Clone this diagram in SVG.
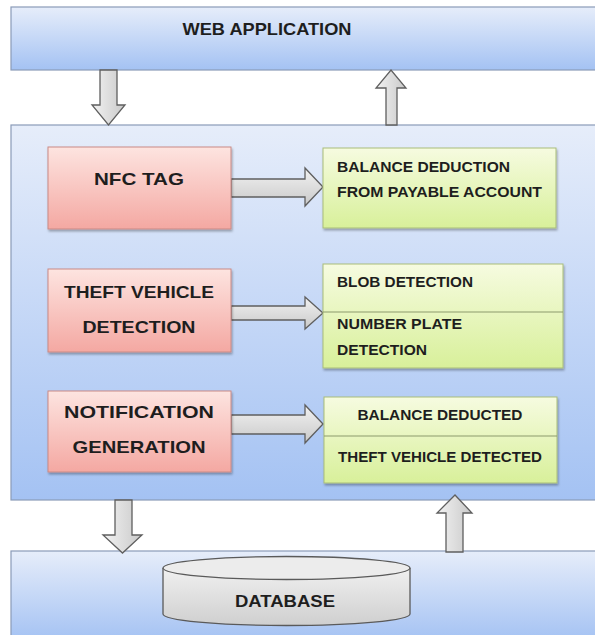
<svg xmlns="http://www.w3.org/2000/svg" width="595" height="635" viewBox="0 0 595 635">
  <defs>
    <linearGradient id="gBlue" x1="0" y1="0" x2="0" y2="1">
      <stop offset="0" stop-color="#e6edfa"/>
      <stop offset="1" stop-color="#a4c2f3"/>
    </linearGradient>
    <linearGradient id="gPink" x1="0" y1="0" x2="0" y2="1">
      <stop offset="0" stop-color="#fde4e0"/>
      <stop offset="1" stop-color="#f4a8a2"/>
    </linearGradient>
    <linearGradient id="gGreen" x1="0" y1="0" x2="0" y2="1">
      <stop offset="0" stop-color="#f6fbe0"/>
      <stop offset="1" stop-color="#d8f09a"/>
    </linearGradient>
    <linearGradient id="gArrowV" x1="0" y1="0" x2="1" y2="0">
      <stop offset="0" stop-color="#f2f2f2"/>
      <stop offset="1" stop-color="#c9c9c9"/>
    </linearGradient>
    <linearGradient id="gArrowH" x1="0" y1="0" x2="0" y2="1">
      <stop offset="0" stop-color="#f2f2f2"/>
      <stop offset="1" stop-color="#c9c9c9"/>
    </linearGradient>
    <linearGradient id="gCyl" x1="0" y1="0" x2="0" y2="1">
      <stop offset="0" stop-color="#f0f0f0"/>
      <stop offset="1" stop-color="#cfcfcf"/>
    </linearGradient>
    <filter id="shadow" x="-5%" y="-5%" width="115%" height="120%">
      <feDropShadow dx="1" dy="2" stdDeviation="1.2" flood-color="#000" flood-opacity="0.3"/>
    </filter>
  </defs>
  <style>
    .layer { fill: url(#gBlue); stroke: #8a9bb8; stroke-width: 1.2; }
    .red { fill: url(#gPink); stroke: #c98a86; stroke-width: 1; filter: url(#shadow); }
    .green { fill: url(#gGreen); stroke: #a9bd7a; stroke-width: 1; filter: url(#shadow); }
    .div { stroke: #8c9a6c; stroke-width: 1; }
    .av { fill: url(#gArrowV); stroke: #5f5f5f; stroke-width: 1.3; stroke-linejoin: miter; }
    .ah { fill: url(#gArrowH); stroke: #5f5f5f; stroke-width: 1.3; stroke-linejoin: miter; }
    text { font-family: "Liberation Sans", Arial, sans-serif; font-weight: bold; fill: #1e1e1e; }
    .big { font-size: 17px; }
    .small { font-size: 14px; }
    .mid { text-anchor: middle; }
  </style>

  <!-- outer layers -->
  <g id="web-application">
    <rect class="layer" x="11" y="7" width="600" height="63"/>
    <text class="big mid" x="267" y="35" textLength="169" lengthAdjust="spacingAndGlyphs">WEB APPLICATION</text>
  </g>
  <g id="system">
    <rect class="layer" x="11" y="125" width="600" height="375"/>
  </g>
  <g id="database-layer">
    <rect class="layer" x="11" y="551" width="600" height="90"/>
  </g>

  <!-- connectors -->
  <g id="connectors">
    <polygon class="av" points="100,70 117,70 117,105 125,105 108.5,125 92,105 100,105 100,70"/>
    <polygon class="av" points="386,125 397,125 397,88 406,88 391,70 376,88 386,88 386,125"/>
    <polygon class="ah" points="231,179 305,179 305,168 323,187 305,206 305,197 231,197"/>
    <polygon class="ah" points="231,306 305,306 305,297 323,313 305,329 305,320 231,320"/>
    <polygon class="ah" points="231,415 305,415 305,405 323,424 305,443 305,434 231,434"/>
    <polygon class="av" points="115,500 132,500 132,535 142,535 122.5,553 103,535 115,535 115,500"/>
    <polygon class="av" points="446,552 463,552 463,513 472,513 455,495 437,513 446,513 446,552"/>
  </g>

  <!-- left column -->
  <g id="nfc-tag">
    <rect class="red" x="48" y="147" width="183" height="82"/>
    <text class="big mid" x="139" y="185" textLength="90" lengthAdjust="spacingAndGlyphs">NFC TAG</text>
  </g>
  <g id="theft-vehicle-detection">
    <rect class="red" x="48" y="269" width="183" height="83"/>
    <text class="big mid" x="139" y="298" textLength="150" lengthAdjust="spacingAndGlyphs">THEFT VEHICLE</text>
    <text class="big mid" x="139" y="333" textLength="113" lengthAdjust="spacingAndGlyphs">DETECTION</text>
  </g>
  <g id="notification-generation">
    <rect class="red" x="48" y="391" width="183" height="81"/>
    <text class="big mid" x="139" y="418" textLength="150" lengthAdjust="spacingAndGlyphs">NOTIFICATION</text>
    <text class="big mid" x="139" y="453" textLength="133" lengthAdjust="spacingAndGlyphs">GENERATION</text>
  </g>

  <!-- right column -->
  <g id="balance-deduction">
    <rect class="green" x="323" y="148" width="233" height="80"/>
    <text class="small" x="337" y="172" textLength="173" lengthAdjust="spacingAndGlyphs">BALANCE DEDUCTION</text>
    <text class="small" x="337" y="197" textLength="205" lengthAdjust="spacingAndGlyphs">FROM PAYABLE ACCOUNT</text>
  </g>
  <g id="detection-methods">
    <rect class="green" x="323" y="264" width="240" height="104"/>
    <line class="div" x1="323" y1="312" x2="563" y2="312"/>
    <text class="small" x="337" y="287" textLength="136" lengthAdjust="spacingAndGlyphs">BLOB DETECTION</text>
    <text class="small" x="337" y="329" textLength="125" lengthAdjust="spacingAndGlyphs">NUMBER PLATE</text>
    <text class="small" x="337" y="355" textLength="90" lengthAdjust="spacingAndGlyphs">DETECTION</text>
  </g>
  <g id="notifications">
    <rect class="green" x="324" y="397" width="233" height="86"/>
    <line class="div" x1="324" y1="436" x2="557" y2="436"/>
    <text class="small mid" x="440" y="420" textLength="165" lengthAdjust="spacingAndGlyphs">BALANCE DEDUCTED</text>
    <text class="small mid" x="440" y="462" textLength="204" lengthAdjust="spacingAndGlyphs">THEFT VEHICLE DETECTED</text>
  </g>

  <!-- storage cylinder -->
  <g id="database">
    <path d="M163,568 L163,614 A123.5,11.5 0 0 0 410,614 L410,568" fill="url(#gCyl)" stroke="#5a5a5a" stroke-width="1.3"/>
    <ellipse cx="286.5" cy="568" rx="123.5" ry="11.5" fill="#ececec" stroke="#5a5a5a" stroke-width="1.3"/>
    <text x="285" y="607" class="mid" font-size="16" textLength="100" lengthAdjust="spacingAndGlyphs">DATABASE</text>
  </g>
</svg>
